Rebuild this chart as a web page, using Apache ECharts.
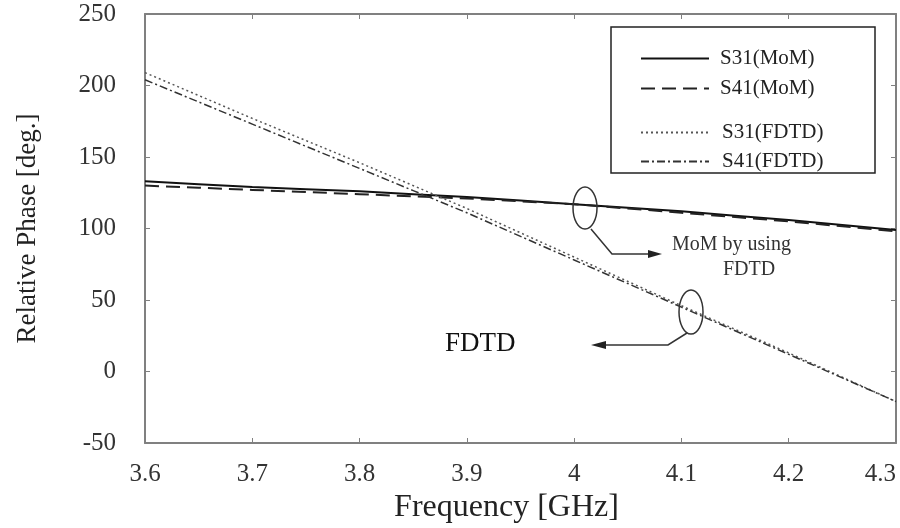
<!DOCTYPE html>
<html>
<head>
<meta charset="utf-8">
<script src="https://cdn.jsdelivr.net/npm/echarts@6/dist/echarts.min.js"></script>
<style>
    html, body { margin: 0; padding: 0; background: #fff; }
    #main { width: 900px; height: 528px; }
</style>
</head>
<body>
<div id="main"></div>
<script>
    // frequency points (GHz)
    var freq = [3.6, 3.65, 3.7, 3.75, 3.8, 3.85, 3.9, 3.95, 4.0, 4.05, 4.1, 4.15, 4.2, 4.25, 4.3];
    // relative phase (deg.)
    var s31Mom = [133, 131, 129, 127.5, 126, 124, 122, 119.5, 117, 114.5, 112, 109, 106, 102.5, 99];
    var s41Mom = [130, 128.5, 127, 125.5, 124, 122.5, 121, 119, 117, 114, 111, 108, 105, 101.5, 98];
    var s31Fdtd = [209, 193, 177, 161.5, 146, 130, 114, 97, 80, 63, 46, 29.5, 13, -4, -21];
    var s41Fdtd = [204, 188.5, 173, 157.5, 142, 126.5, 111, 94.5, 78, 61.5, 45, 28.5, 12, -4.5, -21];

    var xTicks = [3.6, 3.7, 3.8, 3.9, 4, 4.1, 4.2, 4.3];
    var yTicks = [-50, 0, 50, 100, 150, 200, 250];

    var FONT = 'Liberation Serif';

    function pairs(ys) {
        return freq.map(function (f, i) { return [f, ys[i]]; });
    }

    var chart = echarts.init(document.getElementById('main'));

    var frameLine = { show: true, onZero: false, lineStyle: { color: '#808080', width: 2 } };
    var innerTick = { show: true, inside: true, length: 5, lineStyle: { color: '#808080', width: 1 } };

    var option = {
        backgroundColor: '#fff',
        animation: false,
        grid: { left: 145, right: 4, top: 14, bottom: 85, outerBoundsMode: 'none', containLabel: false },
        xAxis: [{
            type: 'value',
            min: xTicks[0],
            max: xTicks[xTicks.length - 1],
            interval: 0.1,
            name: 'Frequency [GHz]',
            nameLocation: 'middle',
            nameGap: 45,
            nameTextStyle: { fontFamily: FONT, fontSize: 32, color: '#222', padding: [0, 28, 0, 0] },
            axisLine: frameLine,
            axisTick: innerTick,
            splitLine: { show: false },
            axisLabel: {
                fontFamily: FONT, fontSize: 25, color: '#333', margin: 19,
                alignMaxLabel: 'right',
                formatter: function (v) { return String(Math.round(v * 10) / 10); }
            }
        }, {
            type: 'value', position: 'top',
            min: xTicks[0], max: xTicks[xTicks.length - 1], interval: 0.1,
            axisLine: frameLine, axisTick: innerTick,
            axisLabel: { show: false }, splitLine: { show: false }
        }],
        yAxis: [{
            type: 'value',
            min: yTicks[0],
            max: yTicks[yTicks.length - 1],
            interval: 50,
            name: 'Relative Phase [deg.]',
            nameLocation: 'middle',
            nameGap: 104,
            nameTextStyle: { fontFamily: FONT, fontSize: 27, color: '#222' },
            axisLine: frameLine,
            axisTick: innerTick,
            splitLine: { show: false },
            axisLabel: { fontFamily: FONT, fontSize: 25, color: '#333', margin: 29 }
        }, {
            type: 'value', position: 'right',
            min: yTicks[0], max: yTicks[yTicks.length - 1], interval: 50,
            axisLine: frameLine, axisTick: innerTick,
            axisLabel: { show: false }, splitLine: { show: false }
        }],
        legend: [{
            data: ['S31(MoM)', 'S41(MoM)'],
            orient: 'vertical',
            left: 635, top: 43,
            itemWidth: 68, itemHeight: 20, itemGap: 9,
            itemStyle: { opacity: 0 },
            textStyle: { fontFamily: FONT, fontSize: 21, color: '#222', padding: [0, 0, 0, 6] }
        }, {
            data: ['S31(FDTD)', 'S41(FDTD)'],
            orient: 'vertical',
            left: 635, top: 117,
            itemWidth: 68, itemHeight: 20, itemGap: 8,
            itemStyle: { opacity: 0 },
            textStyle: { fontFamily: FONT, fontSize: 21, color: '#222', padding: [0, 0, 0, 8] }
        }],
        series: [{
            name: 'S31(MoM)', type: 'line', showSymbol: false, symbol: 'none',
            data: pairs(s31Mom),
            itemStyle: { color: '#111' },
            lineStyle: { color: '#111', width: 2, type: 'solid' }
        }, {
            name: 'S41(MoM)', type: 'line', showSymbol: false, symbol: 'none',
            data: pairs(s41Mom),
            itemStyle: { color: '#222' },
            lineStyle: { color: '#222', width: 2, type: [14, 7] }
        }, {
            name: 'S31(FDTD)', type: 'line', showSymbol: false, symbol: 'none',
            data: pairs(s31Fdtd),
            itemStyle: { color: '#555' },
            lineStyle: { color: '#555', width: 1.5, type: [2, 3] }
        }, {
            name: 'S41(FDTD)', type: 'line', showSymbol: false, symbol: 'none',
            data: pairs(s41Fdtd),
            itemStyle: { color: '#333' },
            lineStyle: { color: '#333', width: 1.5, type: [8, 3, 2, 3] }
        }],
        graphic: [
            // legend frame
            { type: 'rect', shape: { x: 611, y: 27, width: 264, height: 146 },
              style: { fill: null, stroke: '#222', lineWidth: 1.5 }, z: 10 },
            // MoM annotation
            { type: 'ellipse', shape: { cx: 585, cy: 208, rx: 12, ry: 21 },
              style: { fill: null, stroke: '#333', lineWidth: 1.5 }, z: 10 },
            { type: 'polyline', shape: { points: [[591, 229], [612, 254], [650, 254]] },
              style: { fill: null, stroke: '#333', lineWidth: 1.5 }, z: 10 },
            { type: 'polygon', shape: { points: [[648, 250], [662, 254], [648, 258]] },
              style: { fill: '#222' }, z: 10 },
            { type: 'text', left: 672, top: 235, z: 10,
              style: { text: 'MoM by using', fontFamily: FONT, fontSize: 20, fill: '#333' } },
            { type: 'text', left: 723, top: 260, z: 10,
              style: { text: 'FDTD', fontFamily: FONT, fontSize: 20, fill: '#333' } },
            // FDTD annotation
            { type: 'ellipse', shape: { cx: 691, cy: 312, rx: 12, ry: 22 },
              style: { fill: null, stroke: '#333', lineWidth: 1.5 }, z: 10 },
            { type: 'polyline', shape: { points: [[687, 333], [668, 345], [604, 345]] },
              style: { fill: null, stroke: '#333', lineWidth: 1.5 }, z: 10 },
            { type: 'polygon', shape: { points: [[606, 341], [591, 345], [606, 349]] },
              style: { fill: '#222' }, z: 10 },
            { type: 'text', left: 445, top: 330, z: 10,
              style: { text: 'FDTD', fontFamily: FONT, fontSize: 27, fill: '#111' } }
        ]
    };

    chart.setOption(option);
</script>
</body>
</html>
